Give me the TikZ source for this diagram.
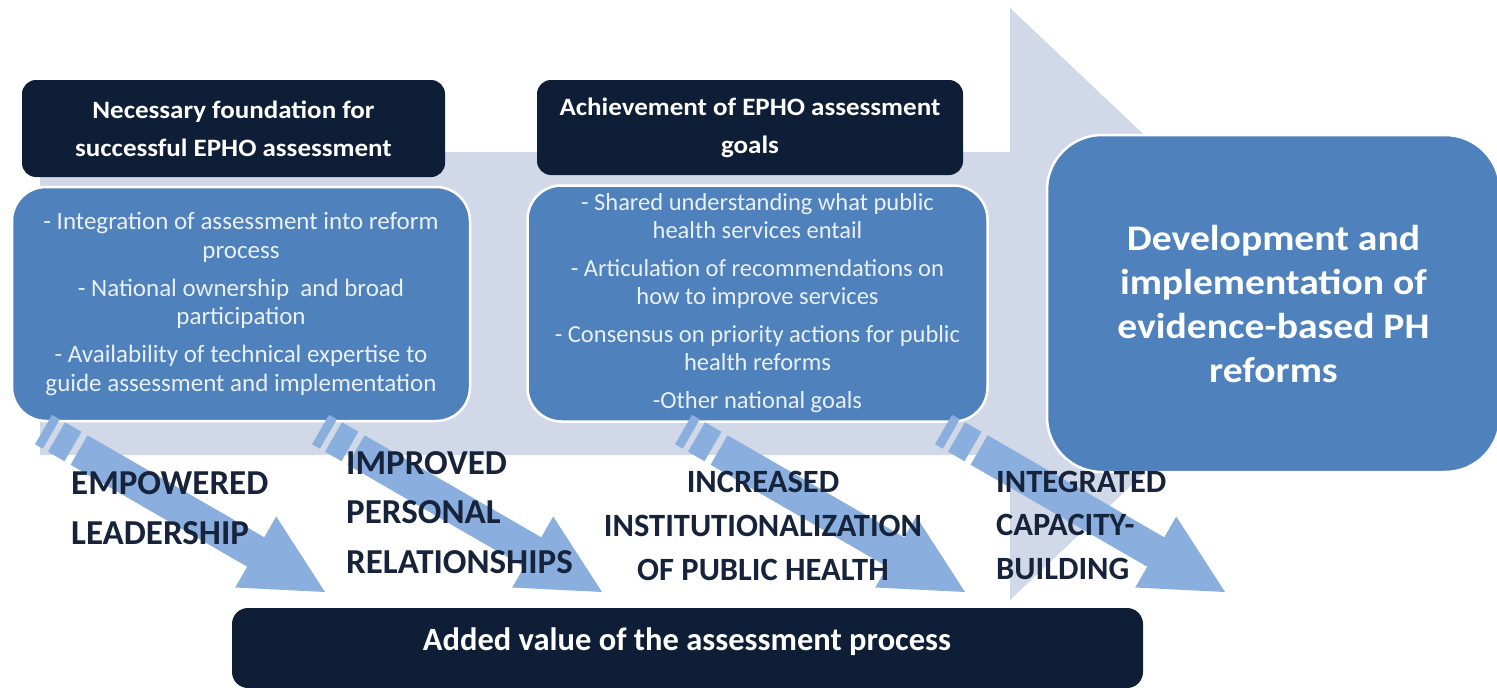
\documentclass[tikz,border=0pt]{standalone}
\usepackage{fontspec}
\setmainfont{Carlito}
\newfontfamily\widefont[FakeStretch=1.08]{Carlito}
\newfontfamily\widerfont[FakeStretch=1.1]{Carlito}

\definecolor{navy}{HTML}{0F1E37}
\definecolor{boxblue}{HTML}{4F81BD}
\definecolor{bandgrey}{HTML}{D1D8E8}
\definecolor{arrowblue}{HTML}{8AAFDF}
\definecolor{labelink}{HTML}{16233B}
\definecolor{softwhite}{HTML}{EAF0F8}

\newcommand\leftstack[2]{\parbox[t]{#1}{#2}}
\newcommand\centerstack[2]{\parbox[t]{#1}{\centering #2}}

\tikzset{
  headbox/.style={fill=navy, rounded corners=14pt, text=white, align=center,
    inner sep=0pt, font=\widefont\bfseries\fontsize{25}{38}\selectfont},
  itembox/.style={fill=boxblue, draw=white, line width=2.5pt, rounded corners=34pt,
    text=softwhite, align=center, inner sep=0pt,
    font=\fontsize{24.5}{28}\selectfont},
  goalbox/.style={fill=boxblue, draw=white, line width=2.5pt, rounded corners=55pt,
    text=white, align=center, inner sep=0pt,
    font=\widerfont\bfseries\fontsize{36}{44}\selectfont},
  valuebox/.style={fill=navy, rounded corners=16pt, inner sep=0pt},
  effect/.style={text=labelink, inner sep=0pt},
  stripedarrow/.pic={
    \fill[arrowblue] (-325,-17) rectangle (-316,17);
    \fill[arrowblue] (-310,-17) rectangle (-291,17);
    \fill[arrowblue] (-284,-17) -- (-80,-17) -- (-80,-41) -- (0,0)
      -- (-80,41) -- (-80,17) -- (-284,17) -- cycle;
  }
}

\begin{document}
\begin{tikzpicture}[x=1pt,y=-1pt]
\useasboundingbox (0,0) rectangle (1497,688);

% broad background arrow carrying the process to the right
\fill[bandgrey] (40,152) -- (1010,152) -- (1010,8) -- (1323,304)
  -- (1010,600) -- (1010,455) -- (40,455) -- cycle;

% headers
\node[headbox, minimum width=423pt, minimum height=97pt] (foundhead) at (233.5,128.5)
  {Necessary foundation for\\successful EPHO assessment};
\node[headbox, minimum width=426pt, minimum height=95pt] (goalhead) at (750,127.5)
  {Achievement of EPHO assessment\\goals};

% content boxes
\node[itembox, minimum width=458pt, minimum height=234pt,
  font=\fontsize{25}{28.5}\selectfont] (foundbox) at (241,304)
  {- Integration of assessment into reform\\process\\[9.5pt]
   - National ownership\ \ and broad\\participation\\[9.5pt]
   - Availability of technical expertise to\\guide assessment and implementation};
\node[itembox, minimum width=460pt, minimum height=236pt] (goalbox) at (757.5,303.5)
  {- Shared understanding what public\\health services entail\\[10pt]
   - Articulation of recommendations on\\how to improve services\\[10pt]
   - Consensus on priority actions for public\\health reforms\\[10pt]
   -Other national goals};

% outcome
\node[goalbox, minimum width=453pt, minimum height=337pt] (reform) at (1273.5,303.5)
  {Development and\\implementation of\\evidence-based PH\\reforms};

% bottom banner
\node[valuebox, minimum width=911pt, minimum height=80pt] (addedbox) at (687.5,648) {};
\node[text=white, inner sep=0pt, anchor=base,
  font=\bfseries\fontsize{32.5}{38}\selectfont] (addedtext) at (687,650)
  {Added value of the assessment process};

% striped arrows towards the added value
\pic[rotate=-30] at (325,592) {stripedarrow};
\pic[rotate=-30] at (602,592) {stripedarrow};
\pic[rotate=-30] at (965,592) {stripedarrow};
\pic[rotate=-30] at (1225,592) {stripedarrow};

% effect labels
\node[effect, anchor=base west, font=\bfseries\fontsize{35}{50}\selectfont]
  (leadership) at (71,494) {\leftstack{300pt}{EMPOWERED\\LEADERSHIP}};
\node[effect, anchor=base west, font=\bfseries\fontsize{35}{49.5}\selectfont]
  (relations) at (346,474) {\leftstack{300pt}{IMPROVED\\PERSONAL\\RELATIONSHIPS}};
\node[effect, anchor=base, font=\bfseries\fontsize{32.5}{44}\selectfont]
  (institution) at (763,492) {\centerstack{420pt}{INCREASED\\INSTITUTIONALIZATION\\OF PUBLIC HEALTH}};
\node[effect, anchor=base west, font=\bfseries\fontsize{32.5}{43.5}\selectfont]
  (capacity) at (996,492) {\leftstack{300pt}{INTEGRATED\\CAPACITY-\\BUILDING}};
\end{tikzpicture}
\end{document}
